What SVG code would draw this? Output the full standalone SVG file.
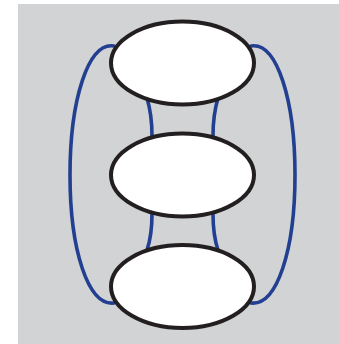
<svg xmlns="http://www.w3.org/2000/svg" width="339" height="344" viewBox="0 0 339 344">
<style>
.edge{fill:none;stroke:#233f91;stroke-width:3.6;stroke-linecap:round}
.node{fill:#ffffff;stroke:#231f20;stroke-width:4}
</style>
<rect x="18" y="4" width="321" height="340" fill="#d1d3d4"/>
<g id="connectors">
<path class="edge" d="M114,46 C88,42 70,100 70,175 C70,250 88,306 114,303"/>
<path class="edge" d="M251,46 C277,42 295,100 295,175 C295,250 277,306 251,303"/>
<path class="edge" d="M147,98 Q152,115 152,136"/>
<path class="edge" d="M218,98 Q213,115 213,136"/>
<path class="edge" d="M152,214 Q152,235 147,250"/>
<path class="edge" d="M213,214 Q213,235 218,250"/>
</g>
<g id="node-top"><ellipse class="node" cx="182.5" cy="63" rx="71.5" ry="41.5"/></g>
<g id="node-middle"><ellipse class="node" cx="182.5" cy="175" rx="71.5" ry="41.5"/></g>
<g id="node-bottom"><ellipse class="node" cx="182.5" cy="286.5" rx="71.5" ry="41.5"/></g>
</svg>
